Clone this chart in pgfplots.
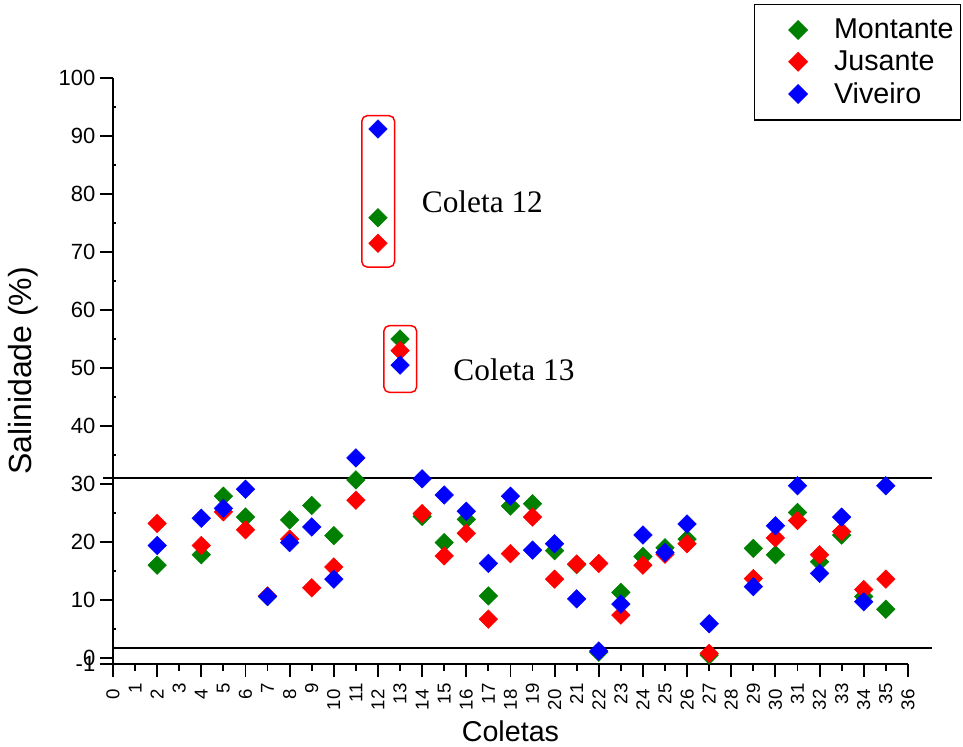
\documentclass[border=0pt]{standalone}
\usepackage{fontspec}
\setmainfont{Liberation Sans}
\newfontfamily\timesf{Liberation Serif}
\usepackage{pgfplots}
\pgfplotsset{compat=1.18}
\definecolor{mgreen}{RGB}{0,128,0}
\definecolor{jred}{RGB}{255,0,0}
\definecolor{vblue}{RGB}{0,0,255}

\pgfplotstableread{
x m
2 16.0
4 17.8
5 27.9
6 24.3
7 10.6
8 23.8
9 26.3
10 21.1
11 30.7
12 75.9
13 55.0
14 24.4
15 19.9
16 23.9
17 10.7
18 26.2
19 26.6
20 18.5
21 16.1
22 1.0
23 11.3
24 17.5
25 19.0
26 20.5
27 0.5
29 18.9
30 17.8
31 25.1
32 16.6
33 21.2
34 10.6
35 8.4
}\montante

\pgfplotstableread{
x j
2 23.2
4 19.4
5 25.2
6 22.1
7 10.7
8 20.5
9 12.1
10 15.7
11 27.2
12 71.5
13 53.0
14 24.9
15 17.6
16 21.5
17 6.7
18 18.0
19 24.3
20 13.6
21 16.2
22 16.3
23 7.4
24 16.0
25 17.9
26 19.7
27 0.8
29 13.7
30 20.7
31 23.7
32 17.8
33 21.8
34 11.8
35 13.6
}\jusante

\pgfplotstableread{
x v
2 19.4
4 24.1
5 25.8
6 29.1
7 10.6
8 19.9
9 22.6
10 13.6
11 34.5
12 91.2
13 50.5
14 30.9
15 28.1
16 25.3
17 16.3
18 27.9
19 18.6
20 19.7
21 10.2
22 1.2
23 9.3
24 21.2
25 18.2
26 23.1
27 5.9
29 12.3
30 22.8
31 29.7
32 14.6
33 24.3
34 9.7
35 29.7
}\viveiro

\begin{document}
\begin{tikzpicture}
\begin{axis}[
  x=16.56pt, y=4.35pt,
  xmin=0, xmax=36, ymin=-1, ymax=100,
  axis x line*=bottom, axis y line*=left,
  axis line style={-, line width=1.4pt, black},
  clip=false,
  tick align=outside,
  major tick length=9.75pt,
  minor tick length=2.25pt,
  every tick/.style={black, line width=1.4pt},
  minor y tick style={xshift=2.25pt},
  xtick={0,2,...,36},
  extra x ticks={1,3,...,35},
  extra x tick style={major tick length=5.25pt},
  ytick={-1,0,10,20,30,40,50,60,70,80,90,100},
  yticklabels={-1,0,10,20,30,40,50,60,70,80,90,100},
  minor ytick={5,15,...,95},
  /pgf/number format/assume math mode=true,
  yticklabel style={font=\fontsize{16.5}{18}\selectfont},
  xticklabel style={font=\fontsize{14}{15}\selectfont, yshift=-6pt, rotate=90, anchor=east},
  xlabel={Coletas},
  ylabel={Salinidade (\%)},
  every axis x label/.style={at={(axis description cs:0.5,0)}, anchor=center, yshift=-50.4pt, font=\fontsize{21.5}{24}\selectfont},
  every axis y label/.style={at={(axis description cs:0,0.5)}, anchor=center, xshift=-67pt, rotate=90, font=\fontsize{24}{27}\selectfont},
  legend style={at={(axis description cs:1.0667,1.1265)}, anchor=north east, draw=black, line width=0.9pt, font=\fontsize{21.5}{24}\selectfont, row sep=3.5pt, inner xsep=3pt, inner ysep=9pt},
  legend cell align=left,
  legend image code/.code={\path[draw=none] (0pt,0pt) -- (55pt,0pt); \draw[#1, only marks] plot coordinates {(30pt,0pt)};},
  every axis plot/.append style={only marks, mark=square*, mark size=4.9pt},
]
\addplot[mgreen, mark options={rotate=45, fill=mgreen, draw=mgreen}] table[x=x, y=m] {\montante};
\addlegendentry{Montante}
\addplot[jred, mark options={rotate=45, fill=jred, draw=jred}] table[x=x, y=j] {\jusante};
\addlegendentry{Jusante}
\addplot[vblue, mark options={rotate=45, fill=vblue, draw=vblue}] table[x=x, y=v] {\viveiro};
\addlegendentry{Viveiro}

\draw[black, line width=1.2pt] (axis cs:-0.45,31) -- (axis cs:37.1,31);
\draw[black, line width=1.2pt] (axis cs:-0.05,1.7) -- (axis cs:37.1,1.7);

\draw[jred, line width=1.1pt, rounded corners=4pt] (axis cs:11.27,67.4) rectangle (axis cs:12.75,93.5);
\draw[jred, line width=1.1pt, rounded corners=4pt] (axis cs:12.27,45.8) rectangle (axis cs:13.75,57.3);
\node[font=\timesf\fontsize{23.5}{28}\selectfont] at (axis cs:16.73,78.7) {Coleta 12};
\node[font=\timesf\fontsize{23.5}{28}\selectfont] at (axis cs:18.16,49.7) {Coleta 13};

\coordinate (O) at (axis cs:0,-1);
\end{axis}
\pgfresetboundingbox
\path ([shift={(-84.75pt,-61.65pt)}]O) rectangle ([shift={(637.5pt,497.85pt)}]O);
\end{tikzpicture}
\end{document}
